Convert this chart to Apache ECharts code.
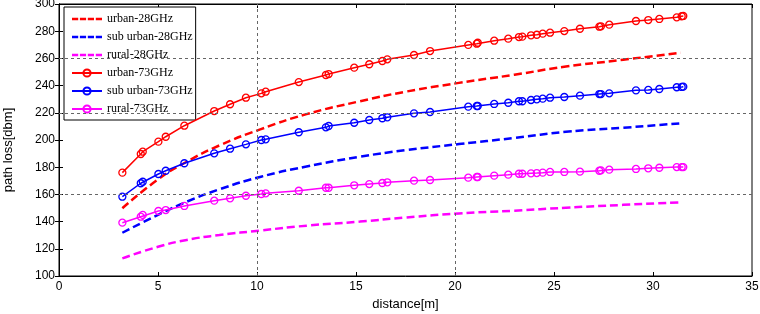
<!DOCTYPE html>
<html>
<head>
<meta charset="utf-8">
<script src="https://cdn.jsdelivr.net/npm/echarts@6/dist/echarts.min.js"></script>
<style>
  html, body { margin: 0; padding: 0; background: #fff; }
  #chartContainer { width: 760px; height: 314px; }
</style>
</head>
<body>
<div id="chartContainer"></div>
<script>
// distances of the 73GHz samples (m)
const distance73 = [3.20, 4.13, 4.23, 5.02, 5.39, 6.33, 7.84, 8.64, 9.44, 10.22, 10.44, 12.11, 13.48, 13.62, 14.91, 15.67, 16.33, 16.58,
    17.93, 18.74, 20.67, 21.10, 21.15, 21.98, 22.69, 23.23, 23.40, 23.84, 24.13, 24.43, 24.80, 25.52, 26.31, 27.29, 27.37, 27.79,
    29.14, 29.76, 30.32, 31.20, 31.45, 31.53];
const urban73 = [176.0, 189.7, 191.4, 198.8, 202.4, 210.5, 221.3, 226.3, 231.1, 234.3, 235.5, 242.6, 247.8, 248.5, 253.2, 255.7, 258.1, 259.3,
    262.5, 265.4, 269.9, 270.8, 271.5, 273.0, 274.5, 275.7, 276.0, 277.0, 277.4, 278.2, 278.9, 280.1, 281.8, 283.3, 283.6, 284.8,
    287.5, 288.2, 289.0, 290.2, 291.0, 291.2];
const suburban73 = [158.3, 168.2, 169.3, 175.0, 177.4, 182.9, 190.2, 193.6, 196.8, 200.0, 200.5, 205.7, 209.3, 210.3, 212.7, 214.7, 216.0, 216.7,
    219.6, 220.6, 224.5, 225.0, 225.0, 226.5, 227.4, 228.5, 228.5, 229.4, 229.9, 230.4, 231.1, 231.6, 232.6, 233.8, 233.8, 234.3,
    236.5, 236.8, 237.5, 238.8, 239.0, 239.2];
const rural73 = [139.2, 143.6, 144.9, 147.8, 148.5, 151.5, 155.4, 157.1, 159.0, 160.3, 160.8, 162.7, 164.9, 164.9, 166.7, 167.6, 168.4, 168.9,
    170.1, 170.6, 172.3, 172.8, 172.8, 173.8, 174.5, 175.2, 175.2, 175.5, 175.7, 176.0, 176.5, 176.5, 176.7, 177.4, 177.7, 178.2,
    178.7, 179.2, 179.6, 180.1, 180.1, 180.1];

// 28GHz curves, read at a few distances
const distance28 = [3.2, 5.0, 6.45, 8.1, 10.2, 12.5, 15.2, 17.5, 20.2, 23.0, 25.6, 28.5, 31.4];
const urban28 = [149.8, 171.0, 184.0, 196.0, 208.0, 219.0, 228.5, 235.5, 242.0, 248.0, 254.0, 259.0, 264.2];
const suburban28 = [131.8, 145.0, 154.6, 163.7, 173.0, 180.5, 187.7, 192.5, 197.0, 201.5, 206.0, 209.0, 212.3];
const rural28 = [113.0, 121.5, 126.5, 130.1, 133.5, 137.0, 140.0, 143.0, 146.0, 148.0, 150.2, 152.3, 154.2];

// grid lines that show in the picture
const gridY = [160, 220, 260];
const gridX = [10, 20];

const xTicks = { min: 0, max: 35, interval: 5 };
const yTicks = { min: 100, max: 300, interval: 20 };

// legend icon for the dashed curves: four dashes in a 30x9 box
const dashIcon = 'path://M0,0h0.01v0.01h-0.01z M29.99,8.99h0.01v0.01h-0.01z ' +
    'M0,3.3h6.2v2.4h-6.2z M7.9,3.3h6.2v2.4h-6.2z M15.8,3.3h6.2v2.4h-6.2z M23.8,3.3h6.2v2.4h-6.2z';

function pairs(xs, ys) {
    return xs.map((x, i) => [x, ys[i]]);
}

function dashedSeries(name, color, ys) {
    return {
        name: name,
        type: 'line',
        data: pairs(distance28, ys),
        smooth: true,
        showSymbol: false,
        symbol: 'none',
        color: color,
        lineStyle: { color: color, width: 2.5, type: [8, 4] },
        z: 3
    };
}

function markerSeries(name, color, ys) {
    return {
        name: name,
        type: 'line',
        data: pairs(distance73, ys),
        symbol: 'circle',
        symbolSize: 7,
        color: color,
        itemStyle: { color: 'rgba(255,255,255,0)', borderColor: color, borderWidth: 1.3 },
        lineStyle: { color: color, width: 1.5 },
        z: 4
    };
}

const tickFont = { color: '#000', fontSize: 12, fontFamily: 'Liberation Sans Narrow, Arial, sans-serif' };

const myChart = echarts.init(document.getElementById('chartContainer'), null, { renderer: 'canvas' });

const option = {
    backgroundColor: '#fff',
    animation: false,
    grid: {
        left: 59, right: 8, top: 4, bottom: 38,
        outerBoundsMode: 'none',
        show: true, borderColor: '#000', borderWidth: 1
    },
    legend: {
        orient: 'vertical',
        left: 64,
        top: 7,
        padding: [6, 3, 5, 7],
        itemWidth: 30,
        itemHeight: 9,
        itemGap: 6,
        backgroundColor: '#fff',
        borderColor: '#000',
        borderWidth: 1,
        textStyle: { fontFamily: 'Liberation Serif, Times New Roman, serif', fontSize: 12, color: '#000' },
        data: [
            { name: 'urban-28GHz', icon: dashIcon },
            { name: 'sub urban-28GHz', icon: dashIcon },
            { name: 'rural-28GHz', icon: dashIcon },
            'urban-73GHz', 'sub urban-73GHz', 'rural-73GHz'
        ]
    },
    xAxis: [{
        type: 'value',
        min: xTicks.min, max: xTicks.max, interval: xTicks.interval,
        name: 'distance[m]',
        nameLocation: 'middle',
        nameGap: 21,
        nameTextStyle: { color: '#000', fontSize: 13, fontFamily: 'Liberation Sans, Arial, sans-serif' },
        axisLine: { lineStyle: { color: '#000' } },
        axisTick: { inside: true, length: 4, lineStyle: { color: '#000' } },
        axisLabel: Object.assign({ margin: 5 }, tickFont),
        splitLine: { show: false }
    }, {
        type: 'value', position: 'top',
        min: xTicks.min, max: xTicks.max, interval: xTicks.interval,
        axisLine: { lineStyle: { color: '#000' } },
        axisTick: { inside: true, length: 4, lineStyle: { color: '#000' } },
        axisLabel: { show: false },
        splitLine: { show: false }
    }],
    yAxis: [{
        type: 'value',
        min: yTicks.min, max: yTicks.max, interval: yTicks.interval,
        name: 'path loss[dbm]',
        nameLocation: 'middle',
        nameGap: 44,
        nameTextStyle: { color: '#000', fontSize: 13, fontFamily: 'Liberation Sans, Arial, sans-serif', padding: [0, 20, 0, 0] },
        axisLine: { show: true, lineStyle: { color: '#000' } },
        axisTick: { show: true, inside: true, length: 4, lineStyle: { color: '#000' } },
        axisLabel: Object.assign({ margin: 4 }, tickFont),
        splitLine: { show: false }
    }, {
        type: 'value', position: 'right',
        min: yTicks.min, max: yTicks.max, interval: yTicks.interval,
        axisLine: { show: true, lineStyle: { color: '#000' } },
        axisTick: { show: true, inside: true, length: 4, lineStyle: { color: '#000' } },
        axisLabel: { show: false },
        splitLine: { show: false }
    }],
    series: [
        {
            // dotted grid lines
            type: 'line',
            data: [],
            silent: true,
            markLine: {
                silent: true,
                symbol: 'none',
                label: { show: false },
                lineStyle: { color: '#666', width: 1, type: [3, 3] },
                data: gridY.map(v => ({ yAxis: v })).concat(gridX.map(v => ({ xAxis: v })))
            },
            z: 1
        },
        dashedSeries('urban-28GHz', '#ff0000', urban28),
        dashedSeries('sub urban-28GHz', '#0000ff', suburban28),
        dashedSeries('rural-28GHz', '#ff00ff', rural28),
        markerSeries('urban-73GHz', '#ff0000', urban73),
        markerSeries('sub urban-73GHz', '#0000ff', suburban73),
        markerSeries('rural-73GHz', '#ff00ff', rural73)
    ]
};

myChart.setOption(option);
</script>
</body>
</html>
